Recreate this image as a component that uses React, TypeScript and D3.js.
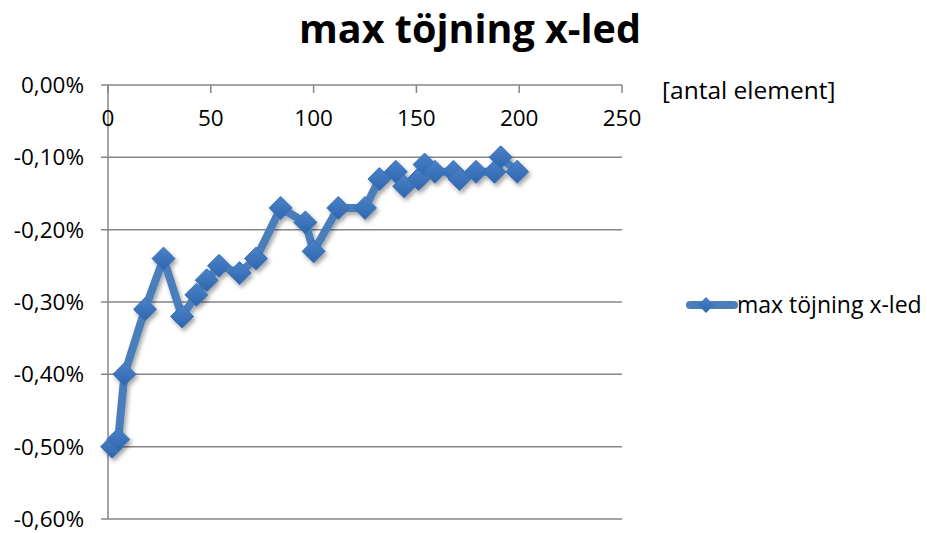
import React from "react";
import * as d3 from "d3";

const xValues = [2, 5, 8, 18, 27, 36, 43, 48, 54, 64, 72, 84, 96, 100, 112, 125, 132, 140, 144, 151, 154, 159, 168, 171, 179, 188, 191, 199];
const yValues = [-0.50, -0.49, -0.40, -0.31, -0.24, -0.32, -0.29, -0.27, -0.25, -0.26, -0.24, -0.17, -0.19, -0.23, -0.17, -0.17, -0.13, -0.12, -0.14, -0.13, -0.11, -0.12, -0.12, -0.13, -0.12, -0.12, -0.10, -0.12];
const xTicks = [0, 50, 100, 150, 200, 250];
const yTicks = [0, -0.1, -0.2, -0.3, -0.4, -0.5, -0.6];
const title = "max töjning x-led";
const seriesName = "max töjning x-led";
const xAxisTitle = "[antal element]";

export default function App() {
  const W = 927, H = 533;
  const x = d3.scaleLinear().domain([0, 250]).range([108, 622]);
  const y = d3.scaleLinear().domain([0, -0.6]).range([85, 519]);
  const pts = xValues.map((v, i) => [x(v), y(yValues[i])] as [number, number]);
  const line = d3.line()(pts) || "";
  const fmt = (v: number) => (v === 0 ? "0,00%" : v.toFixed(2).replace(".", ",") + "%");
  const font = "Open Sans, Liberation Sans, sans-serif";
  const axisColor = "#868686";
  const lineColor = "#4a7ebb";
  const diamond = (cx: number, cy: number, r: number) =>
    `M${cx},${cy - r}L${cx + r},${cy}L${cx},${cy + r}L${cx - r},${cy}Z`;
  return (
    <svg width={W} height={H} style={{ position: "absolute", left: 0, top: 0, background: "#fff" }}>
      <defs>
        <filter id="sh" x="-20%" y="-20%" width="140%" height="140%">
          <feDropShadow dx="2" dy="3" stdDeviation="2" floodColor="#000" floodOpacity="0.35" />
        </filter>
        <linearGradient id="mk" x1="0" y1="0" x2="0" y2="1">
          <stop offset="0" stopColor="#4a82c8" />
          <stop offset="1" stopColor="#2f66ad" />
        </linearGradient>
      </defs>
      <rect width={W} height={H} fill="#fff" />
      <text x={470} y={43} textAnchor="middle" fontFamily={font} fontWeight="bold" fontSize={39.5} fill="#000">{title}</text>
      {yTicks.map((t) => (
        <g key={t}>
          <line x1={101} x2={622} y1={y(t)} y2={y(t)} stroke={axisColor} strokeWidth={1.5} />
          <text x={84} y={y(t)} dy="0.35em" textAnchor="end" fontFamily={font} fontSize={22.5} fill="#000">{fmt(t)}</text>
        </g>
      ))}
      <line x1={x(0)} x2={x(0)} y1={y(0)} y2={y(-0.6)} stroke={axisColor} strokeWidth={1.5} />
      {xTicks.map((t) => (
        <g key={t}>
          <line x1={x(t)} x2={x(t)} y1={y(0)} y2={y(0) + 8} stroke={axisColor} strokeWidth={1.5} />
          <text x={x(t)} y={118} dy="0.35em" textAnchor="middle" fontFamily={font} fontSize={22.5} fill="#000">{t}</text>
        </g>
      ))}
      <text x={662} y={90} dy="0.35em" fontFamily={font} fontSize={24.5} fill="#000">{xAxisTitle}</text>
      <g filter="url(#sh)">
        <path d={line} fill="none" stroke={lineColor} strokeWidth={8} strokeLinejoin="round" strokeLinecap="round" />
        {pts.map((p, i) => (
          <path key={i} d={diamond(p[0], p[1], 11.5)} fill="url(#mk)" stroke="#3a70b5" strokeWidth={1} />
        ))}
      </g>
      <g>
        <line x1={690} x2={734} y1={305} y2={305} stroke={lineColor} strokeWidth={8} strokeLinecap="round" />
        <path d={diamond(706, 305, 8)} fill="url(#mk)" />
        <text x={737} y={305} dy="0.35em" fontFamily={font} fontSize={23} fill="#000">{seriesName}</text>
      </g>
    </svg>
  );
}
